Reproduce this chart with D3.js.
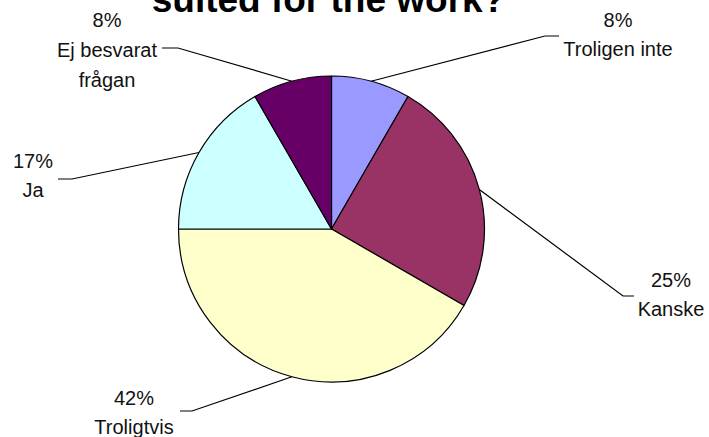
<!DOCTYPE html>
<html>
<head>
<meta charset="utf-8">
<script src="https://cdn.jsdelivr.net/npm/d3@7"></script>
<style>
  html, body { margin: 0; padding: 0; background: #fff; }
  svg { display: block; }
</style>
</head>
<body>
<svg id="chart" width="709" height="437"></svg>
<script>
// Survey answers (number of respondents), clockwise from 12 o'clock
const categories = ["Troligen inte", "Kanske", "Troligtvis", "Ja", "Ej besvarat frågan"];
const counts = [1, 3, 5, 2, 1];
const sliceColors = ["#9999FF", "#993366", "#FFFFCC", "#CCFFFF", "#660066"];
const titleText = "suited for the work?";

// Label text lines per category (category name may wrap)
const labelLines = {
  "Troligen inte": ["Troligen inte"],
  "Kanske": ["Kanske"],
  "Troligtvis": ["Troligtvis"],
  "Ja": ["Ja"],
  "Ej besvarat frågan": ["Ej besvarat", "frågan"]
};

// Placement of each label block: text centre x, first baseline y,
// leader elbow and leader end (where it meets the label)
const labelLayout = {
  "Troligen inte":      { cx: 618, y0: 27,  elbow: [545, 36],  end: [559, 36] },
  "Kanske":             { cx: 671, y0: 287, elbow: [623, 296], end: [634, 296] },
  "Troligtvis":         { cx: 134, y0: 405, elbow: [192, 411], end: [180, 411] },
  "Ja":                 { cx: 33,  y0: 168, elbow: [72, 179],  end: [58, 179] },
  "Ej besvarat frågan": { cx: 107, y0: 27,  elbow: [178, 48],  end: [162, 48] }
};

const svg = d3.select("#chart");
const cx = 331.5, cy = 229, radius = 153;
const lineH = 29;

const total = d3.sum(counts);
const pct = d3.format(".0%");

const data = categories.map((c, i) => ({ category: c, value: counts[i], color: sliceColors[i] }));

const pie = d3.pie().value(d => d.value).sort(null);
const arc = d3.arc().innerRadius(0).outerRadius(radius);
const arcs = pie(data);

// Title (sits partly above the top edge)
svg.append("text")
  .attr("x", 328.5)
  .attr("y", 12)
  .attr("text-anchor", "middle")
  .attr("font-family", "Liberation Sans, Arial, sans-serif")
  .attr("font-weight", "bold")
  .attr("font-size", 37)
  .attr("fill", "#000")
  .text(titleText);

const g = svg.append("g").attr("transform", `translate(${cx},${cy})`);

g.selectAll("path.slice")
  .data(arcs)
  .join("path")
  .attr("class", "slice")
  .attr("d", arc)
  .attr("fill", d => d.data.color)
  .attr("stroke", "#000")
  .attr("stroke-width", 1.2)
  .attr("stroke-linejoin", "round");

// Leader lines from the slice's outer edge midpoint to its label
svg.selectAll("polyline.leader")
  .data(arcs)
  .join("polyline")
  .attr("class", "leader")
  .attr("fill", "none")
  .attr("stroke", "#000")
  .attr("stroke-width", 1.2)
  .attr("points", d => {
    const a = (d.startAngle + d.endAngle) / 2;
    const p = [cx + radius * Math.sin(a), cy - radius * Math.cos(a)];
    const L = labelLayout[d.data.category];
    return [p, L.elbow, L.end].map(q => q.join(",")).join(" ");
  });

// Labels: percentage on the first line, category name below
const labels = svg.selectAll("text.label")
  .data(arcs)
  .join("text")
  .attr("class", "label")
  .attr("text-anchor", "middle")
  .attr("font-family", "Liberation Sans, Arial, sans-serif")
  .attr("font-size", 20)
  .attr("fill", "#111");

labels.each(function(d) {
  const L = labelLayout[d.data.category];
  const lines = [pct(d.data.value / total)].concat(labelLines[d.data.category]);
  d3.select(this).selectAll("tspan")
    .data(lines)
    .join("tspan")
    .attr("x", L.cx)
    .attr("y", (t, i) => L.y0 + i * (d.data.category === "Ej besvarat frågan" ? 30 : lineH))
    .text(t => t);
});
</script>
</body>
</html>
